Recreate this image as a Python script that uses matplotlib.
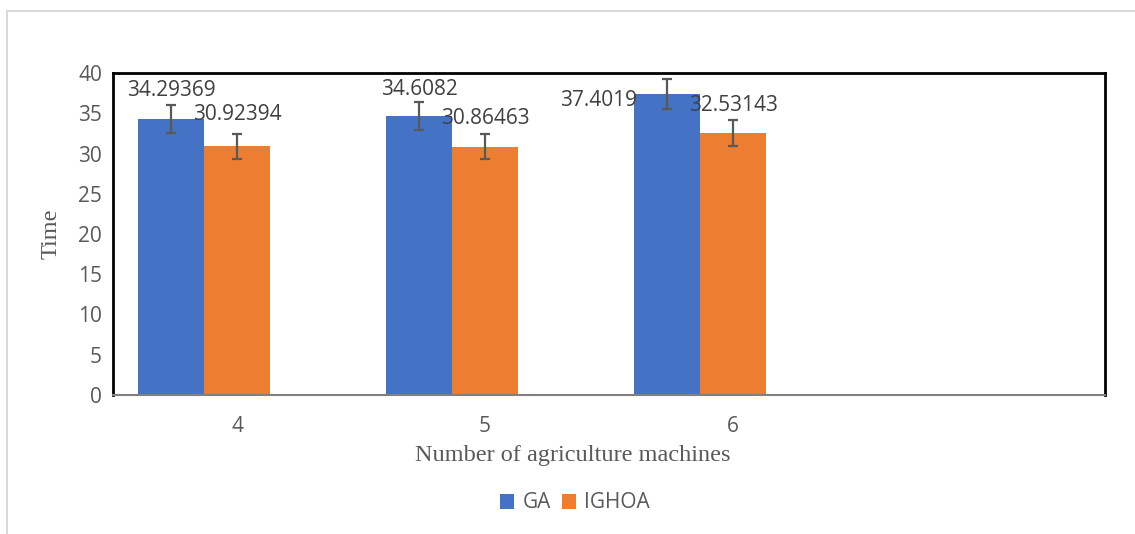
import matplotlib

matplotlib.use('Agg')
import matplotlib.pyplot as plt
import numpy as np
from matplotlib.patches import Rectangle

categories = ["4", "5", "6", ""]
ga_values = [34.29369, 34.6082, 37.4019]
ighoa_values = [30.92394, 30.86463, 32.53143]
ga_errors = [1.71, 1.73, 1.87]
ighoa_errors = [1.55, 1.54, 1.63]

GA_COLOR = "#4472c4"
IGHOA_COLOR = "#ed7d31"
TEXT_GRAY = "#595959"

# label nudges in pixels (dx, dy above bar top), matching the moved labels
ga_label_shift = [(0, 28), (0, 27), (-68, -7)]
ighoa_label_shift = [(0, 32), (0, 28), (0, 28)]

fig = plt.figure(figsize=(11.35, 5.34), dpi=100)
ax = fig.add_axes([113 / 1135, 1 - 395 / 534, 992 / 1135, 322 / 534])

# light chart-area frame
fig.patches.append(Rectangle((7 / 1135, -0.1), 1.2, 1 - 11 / 534 + 0.1,
                             transform=fig.transFigure, fill=False,
                             edgecolor="#d9d9d9", lw=1.5))

# each group has room for three bars; the third slot is empty
x = np.arange(len(ga_values))
w = 0.266
ga_x = x - w
ighoa_x = x
ax.bar(ga_x, ga_values, w, color=GA_COLOR, label="GA", zorder=2)
ax.bar(ighoa_x, ighoa_values, w, color=IGHOA_COLOR, label="IGHOA", zorder=2)
err_kw = dict(fmt="none", ecolor=TEXT_GRAY, elinewidth=1.6, capsize=3.8, capthick=1.6, zorder=3)
ax.errorbar(ga_x, ga_values, yerr=ga_errors, **err_kw)
ax.errorbar(ighoa_x, ighoa_values, yerr=ighoa_errors, **err_kw)

lab_font = dict(family="Open Sans", size=15, color="#404040", ha="center", va="center")
for xi, v, (dx, dy) in zip(ga_x, ga_values, ga_label_shift):
    ax.annotate(str(v), (xi, v), xytext=(dx, dy), textcoords="offset pixels", **lab_font)
for xi, v, (dx, dy) in zip(ighoa_x, ighoa_values, ighoa_label_shift):
    ax.annotate(str(v), (xi, v), xytext=(dx, dy), textcoords="offset pixels", **lab_font)

ax.set_xlim(-0.5, len(categories) - 0.5)
ax.set_ylim(0, 40)
ax.set_yticks(range(0, 41, 5))
ax.set_xticks(range(len(categories)))
ax.set_xticklabels(categories)
ax.tick_params(length=0, labelsize=15, labelcolor=TEXT_GRAY, pad=8)
ax.tick_params(axis="x", pad=15)
for t in ax.get_xticklabels() + ax.get_yticklabels():
    t.set_family("Open Sans")

for side in ["top", "right", "left"]:
    ax.spines[side].set_color("black")
    ax.spines[side].set_linewidth(2)
ax.spines["bottom"].set_color("#808080")
ax.spines["bottom"].set_linewidth(1.5)

ax.set_ylabel("Time", family="Liberation Serif", fontsize=17.5, color=TEXT_GRAY, labelpad=12)
ax.set_xlabel("Number of agriculture machines", family="Liberation Serif", fontsize=17.5,
              color=TEXT_GRAY, labelpad=8)
ax.xaxis.set_label_coords((573 - 113) / 992, -0.155)

leg = fig.legend(loc="center", bbox_to_anchor=(575 / 1135, 1 - 503 / 534), ncol=2,
                 frameon=False, prop={"family": "Open Sans", "size": 15},
                 handlelength=0.7, handleheight=0.7, handletextpad=0.4, columnspacing=0.5)
for t in leg.get_texts():
    t.set_color(TEXT_GRAY)

fig.savefig("out.png", dpi=100)
plt.close(fig)
